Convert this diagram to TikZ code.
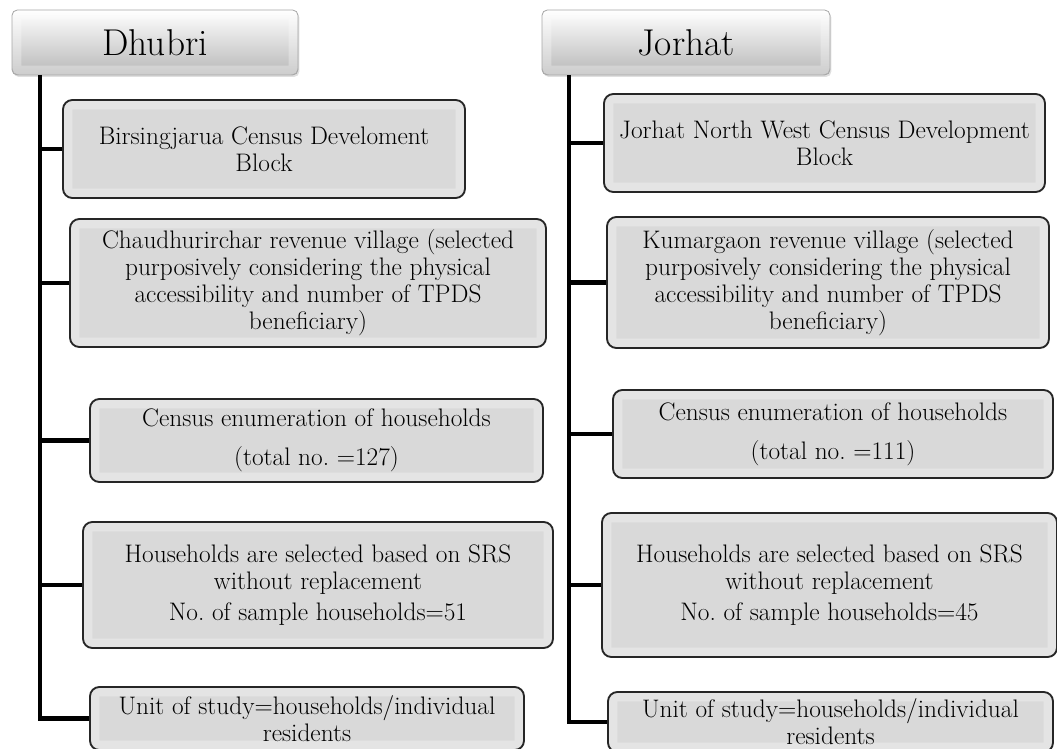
\documentclass[tikz,border=0pt]{standalone}
\usetikzlibrary{shadows}
\definecolor{boxgray}{HTML}{D9D9D9}
\definecolor{edgegray}{HTML}{262626}
\newcommand{\bodyfont}{\fontsize{19}{20.25}\selectfont}
\newcommand{\headfont}{\fontsize{28}{32}\selectfont}
\begin{document}
\begin{tikzpicture}[x=0.75pt, y=-0.75pt,
  bevel/.style={path picture={
    \draw[white, opacity=0.3, line width=7pt, rounded corners=3pt]
      ([shift={(3.5pt,-3.5pt)}]path picture bounding box.north west) rectangle
      ([shift={(-3.5pt,3.5pt)}]path picture bounding box.south east);}},
  head/.style={draw=black!35, line width=0.6pt, rounded corners=4pt,
    top color=white, bottom color=black!28, bevel, font=\headfont,
    drop shadow={opacity=0.25, shadow xshift=1pt, shadow yshift=-1.5pt}},
  box/.style={draw=edgegray, line width=1.4pt, rounded corners=7pt,
    fill=boxgray, bevel, align=center, font=\bodyfont, inner sep=2pt},
  stem/.style={line width=3.4pt}]
  % page frame, in pixels of the 1057 x 749 figure (y runs downwards)
  \useasboundingbox (0,0) rectangle (1057,749);
  \clip (0,0) rectangle (1057,749);

  % district headers
  \node[head, minimum width=214.5pt, minimum height=48.75pt] (dhubri) at (155,42.5) {Dhubri};
  \node[head, minimum width=216pt, minimum height=48.75pt] (jorhat) at (686,42.5) {Jorhat};

  % Dhubri column
  \node[box, minimum width=301.5pt, minimum height=73.5pt] (d1) at (264,149)
    {Birsingjarua Census Develoment\\Block};
  \node[box, minimum width=357pt, minimum height=96pt] (d2) at (308,283)
    {Chaudhurirchar revenue village (selected\\purposively considering the physical\\accessibility and number of TPDS\\beneficiary)};
  \node[box, minimum width=339.75pt, minimum height=62.25pt] (d3) at (316.5,440.5)
    {Census enumeration of households\\[9pt](total no.\ =127)};
  \node[box, minimum width=352.5pt, minimum height=94.5pt] (d4) at (318,585)
    {Households are selected based on SRS\\without replacement\\[3pt]No.\ of sample households=51};
  \node[box, minimum width=325.5pt, minimum height=47.25pt] (d5) at (307,718.5)
    {Unit of study=households/individual\\residents};

  % Jorhat column
  \node[box, minimum width=330.75pt, minimum height=73.5pt] (j1) at (824.5,143)
    {Jorhat North West Census Development\\Block};
  \node[box, minimum width=331.5pt, minimum height=98.25pt] (j2) at (828,282.5)
    {Kumargaon revenue village (selected\\purposively considering the physical\\accessibility and number of TPDS\\beneficiary)};
  \node[box, minimum width=330pt, minimum height=66pt] (j3) at (833,434)
    {Census enumeration of households\\[9pt](total no.\ =111)};
  \node[box, minimum width=341.25pt, minimum height=108pt] (j4) at (829.5,585)
    {Households are selected based on SRS\\without replacement\\[3pt]No.\ of sample households=45};
  \node[box, minimum width=333.75pt, minimum height=45pt] (j5) at (830.5,722)
    {Unit of study=households/individual\\residents};

  % spines hanging from the headers
  \coordinate (dtop) at (40,75);
  \coordinate (jtop) at (569,75);
  \draw[stem] (dtop) |- (d5.west);
  \draw[stem] (d1.west -| dtop) -- (d1.west);
  \draw[stem] (d2.west -| dtop) -- (d2.west);
  \draw[stem] (d3.west -| dtop) -- (d3.west);
  \draw[stem] (d4.west -| dtop) -- (d4.west);
  \draw[stem] (jtop) |- (j5.west);
  \draw[stem] (j1.west -| jtop) -- (j1.west);
  \draw[stem] (j2.west -| jtop) -- (j2.west);
  \draw[stem] (j3.west -| jtop) -- (j3.west);
  \draw[stem] (j4.west -| jtop) -- (j4.west);
\end{tikzpicture}
\end{document}
